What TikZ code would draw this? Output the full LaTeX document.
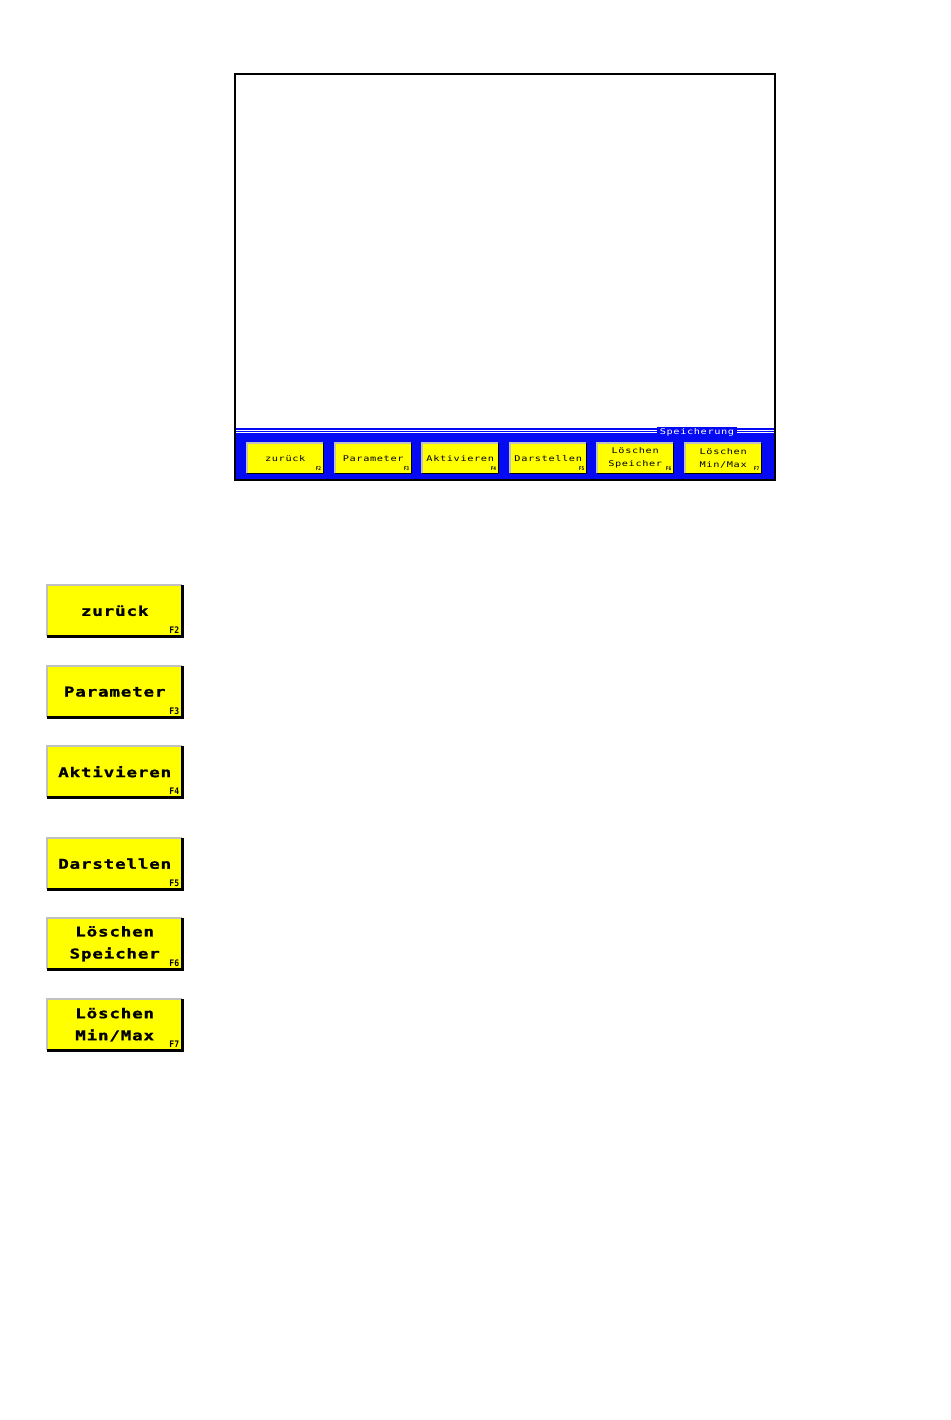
\documentclass[tikz,border=0pt]{standalone}
\usepackage{fontspec}
\newfontfamily\pixfont[LetterSpace=8,FakeStretch=1.3]{DejaVu Sans Mono}
\newfontfamily\pixbold[LetterSpace=6,FakeStretch=1.3,FakeBold=1.2]{DejaVu Sans Mono}
\newfontfamily\fkfont[FakeStretch=0.9]{DejaVu Sans Mono}
\definecolor{btnyellow}{RGB}{255,255,0}
\definecolor{btngray}{RGB}{192,192,192}
\definecolor{screenblue}{RGB}{5,10,245}
\newcommand\btnframe[2]{%
  \draw[btngray, line width=#2] (#1.south west) -- (#1.north west) -- (#1.north east);
  \draw[black, line width=#2] (#1.south west) -- (#1.south east) -- (#1.north east);
}
\tikzset{
  btnbox/.style={fill=btnyellow, draw=none, inner sep=0pt, anchor=north west, align=center},
  bigbtn/.style={btnbox, minimum width=135pt, minimum height=51pt,
    font=\pixbold\bfseries\fontsize{13.5}{22}\selectfont},
  smallbtn/.style={btnbox, minimum width=76pt, minimum height=30pt,
    font=\pixfont\fontsize{7.9}{13}\selectfont},
  bigfk/.style={font=\fkfont\bfseries\fontsize{9}{9}\selectfont, inner sep=0pt, anchor=south east},
  smallfk/.style={font=\fkfont\bfseries\fontsize{5}{5}\selectfont, inner sep=0pt, anchor=south east},
}
\begin{document}
\begin{tikzpicture}[x=1pt,y=-1pt]
  \fill[white] (0,0) rectangle (950,1420);
  \useasboundingbox (0,0) rectangle (950,1420);
  % screen
  \fill[screenblue] (235,428) rectangle (775,480);
  \draw[white, line width=0.9pt] (236,430.3) -- (774,430.3);
  \draw[white, line width=0.9pt] (236,432.8) -- (774,432.8);
  \node[font=\pixfont\fontsize{7.9}{9}\selectfont, text=white, fill=screenblue, inner xsep=3pt, inner ysep=1pt] (lbl) at (697,432) {Speicherung};
  \draw[black, line width=2pt] (235,74) rectangle (775,480);
  % small buttons
  \node[smallbtn] (s1) at (247,443) {zurück};
  \node[smallbtn] (s2) at (335,443) {Parameter};
  \node[smallbtn] (s3) at (422,443) {Aktivieren};
  \node[smallbtn] (s4) at (510,443) {Darstellen};
  \node[smallbtn] (s5) at (597,443) {Löschen\\Speicher};
  \node[smallbtn] (s6) at (685,443) {Löschen\\Min/Max};
  \foreach \n/\f in {s1/F2,s2/F3,s3/F4,s4/F5,s5/F6,s6/F7}{
    \node[smallfk] (\n f) at ([xshift=-2pt,yshift=2.5pt]\n.south east) {\f};
    \btnframe{\n}{1.8pt}
  }
  % big buttons
  \node[bigbtn] (b1) at (47,585) {zurück};
  \node[bigbtn] (b2) at (47,666) {Parameter};
  \node[bigbtn] (b3) at (47,746) {Aktivieren};
  \node[bigbtn] (b4) at (47,838) {Darstellen};
  \node[bigbtn] (b5) at (47,918) {Löschen\\Speicher};
  \node[bigbtn] (b6) at (47,999) {Löschen\\Min/Max};
  \foreach \n/\f in {b1/F2,b2/F3,b3/F4,b4/F5,b5/F6,b6/F7}{
    \node[bigfk] (\n f) at ([xshift=-3pt,yshift=3pt]\n.south east) {\f};
    \btnframe{\n}{2.6pt}
  }
\end{tikzpicture}
\end{document}
